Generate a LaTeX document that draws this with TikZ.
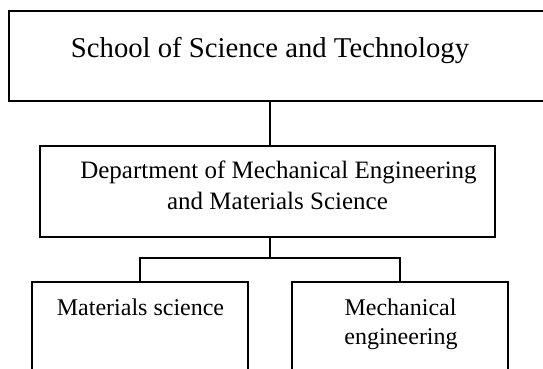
\documentclass[tikz,border=0pt]{standalone}
\usepackage{fontspec}
\setmainfont{Liberation Serif}
\tikzset{
  orgbox/.style={draw=black, line width=1.8pt, rectangle, inner sep=0pt, outer sep=0pt},
  bigtxt/.style={anchor=base, inner sep=0pt, font=\fontsize{28.7}{34}\selectfont},
  midtxt/.style={anchor=base, inner sep=0pt, font=\fontsize{25}{31}\selectfont},
  smalltxt/.style={anchor=base, inner sep=0pt, font=\fontsize{24}{29}\selectfont},
  link/.style={draw=black, line width=1.8pt}
}
\begin{document}
\begin{tikzpicture}[x=1pt, y=-1pt]
\useasboundingbox (0,0) rectangle (543,368);
\clip (0,0) rectangle (543,368);
\fill[white] (0,0) rectangle (543,368);
% boxes
\node[orgbox, minimum width=551pt, minimum height=90pt] (top) at (284.5,56) {};
\node[orgbox, minimum width=455pt, minimum height=91pt] (mid) at (267.5,191.5) {};
\node[orgbox, minimum width=216pt, minimum height=118pt] (left) at (140,341) {};
\node[orgbox, minimum width=216pt, minimum height=118pt] (right) at (400,341) {};
% texts
\node[bigtxt] (t1) at (270,57) {School of Science and Technology};
\node[midtxt] (t2a) at (278.5,178) {Department of Mechanical Engineering};
\node[midtxt] (t2b) at (277.5,209) {and Materials Science};
\node[smalltxt] (t3) at (140.5,315) {Materials science};
\node[smalltxt] (t4a) at (400.5,315) {Mechanical};
\node[smalltxt] (t4b) at (401,344) {engineering};
% connectors
\coordinate (j) at (270,258);
\draw[link] (top.south -| j) -- (mid.north -| j);
\draw[link] (mid.south -| j) -- (j);
\draw[link] (left.north) |- (j) -| (right.north);
\end{tikzpicture}
\end{document}
